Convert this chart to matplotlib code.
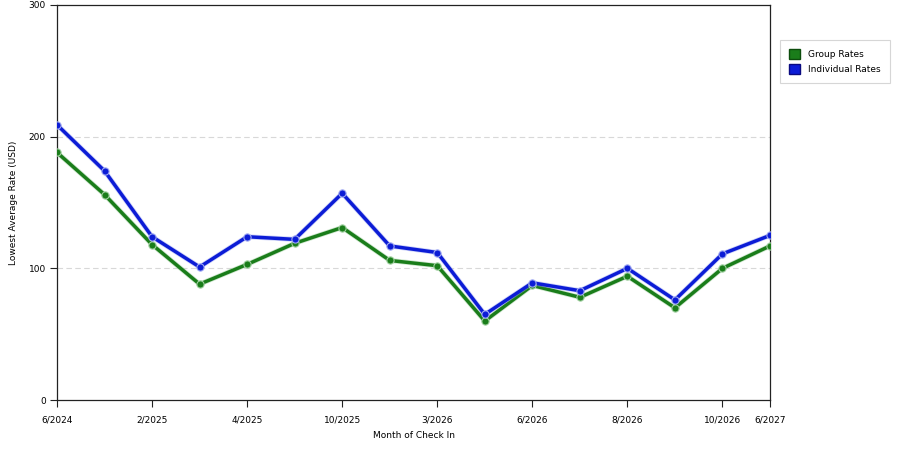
import matplotlib
matplotlib.use("Agg")
import matplotlib.pyplot as plt
import matplotlib.patheffects as pe
from matplotlib.patches import Patch

months = ["6/2024", "", "2/2025", "", "4/2025", "", "10/2025", "", "3/2026", "",
          "6/2026", "", "8/2026", "", "10/2026", "6/2027"]
group_rates = [188, 156, 118, 88, 103, 119, 131, 106, 102, 60, 87, 78, 94, 70, 100, 117]
individual_rates = [209, 174, 124, 101, 124, 122, 157, 117, 112, 65, 89, 83, 100, 76, 111, 125]
y_ticks = [0, 100, 200, 300]

green = "#1a7d1a"
blue = "#0c1cd6"

fig = plt.figure(figsize=(9, 4.5), dpi=100)
ax = fig.add_axes([57/900, 50/450, 713/900, 395/450])

x = list(range(len(months)))
for vals, col, halo in [(group_rates, green, "#9fcf9f"), (individual_rates, blue, "#9fa8f2")]:
    ax.plot(x, vals, color=col, lw=2.5, solid_joinstyle="round", zorder=3,
            path_effects=[pe.Stroke(linewidth=3.6, foreground=halo, alpha=0.5), pe.Normal()])
    ax.plot(x, vals, ls="none", marker="o", ms=5.2, mfc=col, mec=halo, mew=0.8, zorder=4)

ax.set_xlim(0, len(months) - 1)
ax.set_ylim(0, 300)
ax.set_yticks(y_ticks)
ax.set_xticks(x)
ax.set_xticklabels(months)
for i, lab in enumerate(months):
    if lab == "":
        ax.get_xticklines()[2 * i].set_visible(False)
ax.tick_params(axis="both", labelsize=6.5, length=5, width=0.8, color="#222222", pad=3)
ax.tick_params(axis="x", pad=6)
for y in [100, 200]:
    ax.axhline(y, color="#d8d8d8", lw=0.8, ls=(0, (5, 3)), zorder=1)
for s in ax.spines.values():
    s.set_color("#222222")
    s.set_linewidth(0.9)

ax.set_xlabel("Month of Check In", fontsize=6.5, labelpad=5)
ax.set_ylabel("Lowest Average Rate (USD)", fontsize=6.5)
ax.yaxis.set_label_coords(-39/713, 0.5)

handles = [Patch(facecolor=green, edgecolor="#0d4d0d", label="Group Rates"),
           Patch(facecolor=blue, edgecolor="#0a0a80", label="Individual Rates")]
leg = fig.legend(handles=handles, loc="upper left", bbox_to_anchor=(780/900, 1 - 40/450),
                 borderaxespad=0,
                 fontsize=6.5, frameon=True, fancybox=False, edgecolor="#cccccc",
                 handlelength=1.2, handleheight=1.3, handletextpad=0.9, borderpad=1.0,
                 labelspacing=0.55)
leg.get_frame().set_linewidth(0.8)

fig.savefig("out.png", dpi=100)
